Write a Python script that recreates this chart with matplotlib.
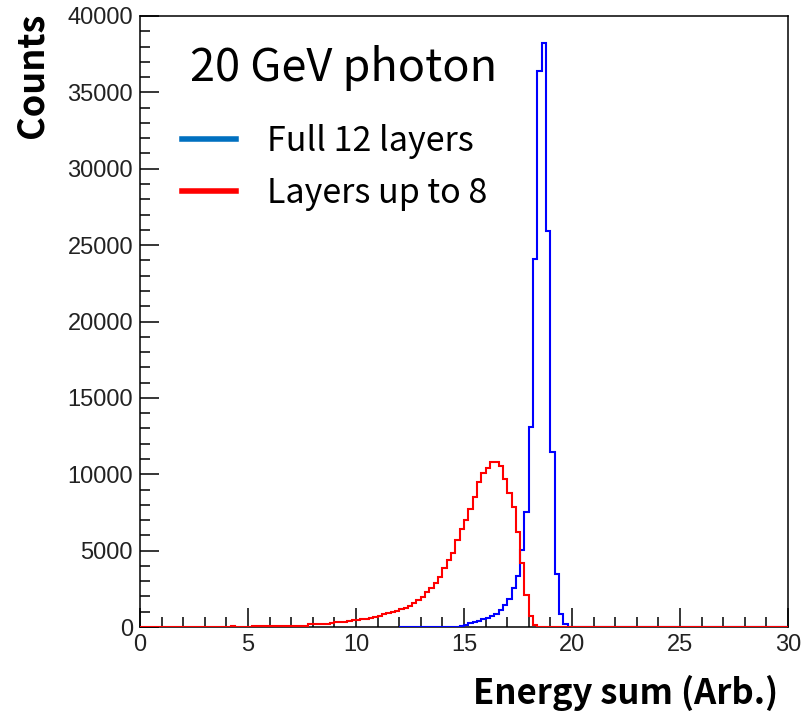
import numpy as np
import matplotlib
matplotlib.use("Agg")
import matplotlib.pyplot as plt
from matplotlib.lines import Line2D
from matplotlib.ticker import MultipleLocator

# ---- data ----
bin_width = 0.2
x_min, x_max = 0.0, 30.0

red_start = 4.2
red_counts = [80, 0, 0, 0, 0,
              60, 65, 65, 70, 65, 70, 75, 70, 75, 80, 80, 85, 90,
              195, 200, 210, 215, 225, 240,
              300, 310, 330, 415, 440, 460, 500, 530, 580, 640, 720, 830, 900, 980,
              1050, 1150, 1270, 1400, 1550, 1770, 1990, 2310, 2530, 2860, 3250,
              3840, 4390, 4820, 5700, 6390, 7000, 7700, 8530, 9510, 10060, 10390,
              10820, 10820, 10540, 9670, 8750, 7880, 6240, 4170, 2095, 720, 130]

blue_start = 12.0
blue_counts = [5, 10, 10, 0, 0, 0, 0, 10, 5, 0, 10, 15, 20, 30, 60,
               150, 250, 330, 420, 520, 620, 720, 850, 1100, 1440, 1810, 2530,
               3340, 5040, 7550, 13100, 24100, 36400, 38200, 25900, 11480, 3470,
               850, 200, 20]

x_ticks = [0, 5, 10, 15, 20, 25, 30]
y_ticks = [0, 5000, 10000, 15000, 20000, 25000, 30000, 35000, 40000]

title = "20 GeV photon"
labels = ["Full 12 layers", "Layers up to 8"]
xlabel = "Energy sum (Arb.)"
ylabel = "Counts"

# ---- build histograms ----
n_bins = int(round((x_max - x_min) / bin_width))
edges = x_min + bin_width * np.arange(n_bins + 1)

red = np.zeros(n_bins)
i0 = int(round((red_start - x_min) / bin_width))
red[i0:i0 + len(red_counts)] = red_counts

j0 = int(round((blue_start - x_min) / bin_width))
blue = np.zeros(n_bins - j0)
blue[:len(blue_counts)] = blue_counts
blue_edges = edges[j0:]

# ---- figure ----
W, H = 804, 717
fig = plt.figure(figsize=(W / 100, H / 100), dpi=100)
ax = fig.add_axes([140 / W, 1 - 627 / H, 648 / W, 611 / H])

ax.stairs(blue, blue_edges, color="#0000ff", linewidth=1.5, zorder=3)
ax.stairs(red, edges, color="#ff0000", linewidth=1.5, zorder=4)

ax.set_xlim(x_min, x_max)
ax.set_ylim(0, 40000)
ax.set_xticks(x_ticks)
ax.set_yticks(y_ticks)
ax.set_xticklabels([str(t) for t in x_ticks])
ax.set_yticklabels([str(t) for t in y_ticks])
ax.xaxis.set_minor_locator(MultipleLocator(1))
ax.yaxis.set_minor_locator(MultipleLocator(1000))
ax.tick_params(which="both", direction="in", top=False, right=False, width=1.1, colors="black")
ax.tick_params(which="major", length=13.5, pad=5)
ax.tick_params(which="minor", length=7)
for lab in ax.get_xticklabels() + ax.get_yticklabels():
    lab.set_fontfamily("Liberation Sans")
    lab.set_fontsize(17)
    lab.set_color("#222222")
for s in ax.spines.values():
    s.set_linewidth(1.1)
    s.set_zorder(2)

cjk = ["Noto Sans CJK KR", "DejaVu Sans"]
fig.text(32 / W, 1 - 75 / H, ylabel, rotation=90, ha="center", va="center",
         fontsize=26, fontweight="bold", family=cjk)
fig.text(778 / W, 1 - 693 / H, xlabel, ha="right", va="center",
         fontsize=25, fontweight="bold", family=cjk)
fig.text(190 / W, 1 - 68 / H, title, ha="left", va="center",
         fontsize=32.5, family=cjk)

handles = [Line2D([], [], color="#0070c0", linewidth=4),
           Line2D([], [], color="#ff0000", linewidth=4)]
leg = fig.legend(handles, labels, loc="upper left", bbox_to_anchor=(182 / W, 1 - 124 / H),
                 frameon=False, prop={"family": cjk, "size": 24.5},
                 handlelength=1.6, handletextpad=0.9, labelspacing=0.5,
                 borderpad=0, borderaxespad=0)

fig.savefig("out.png", dpi=100)
